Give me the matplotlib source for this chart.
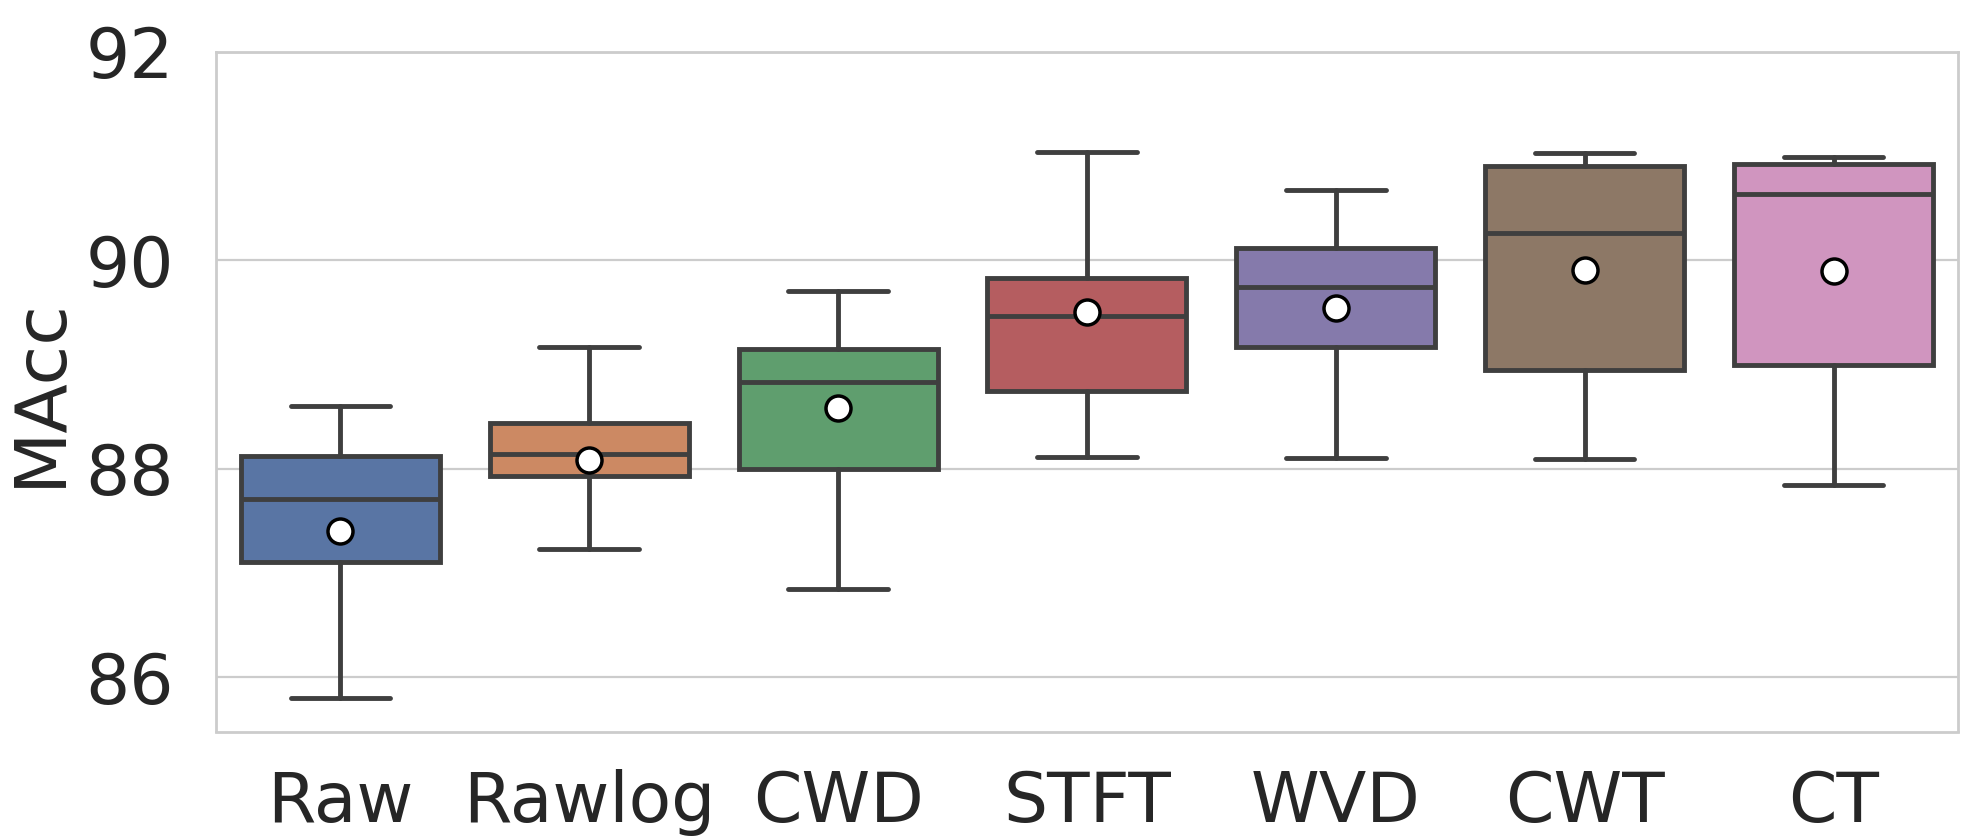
import numpy as np
import matplotlib
matplotlib.use("Agg")
import matplotlib.pyplot as plt
import seaborn as sns

# box statistics
methods = ["Raw", "Rawlog", "CWD", "STFT", "WVD", "CWT", "CT"]
whis_lo = [85.80, 87.23, 86.85, 88.11, 88.10, 88.09, 87.84]
q1 = [87.11, 87.93, 88.00, 88.75, 89.17, 88.95, 89.00]
med = [87.71, 88.14, 88.83, 89.47, 89.74, 90.26, 90.64]
q3 = [88.12, 88.44, 89.15, 89.83, 90.12, 90.90, 90.92]
whis_hi = [88.60, 89.17, 89.71, 91.04, 90.67, 91.03, 90.99]
means = [87.40, 88.08, 88.58, 89.50, 89.54, 89.91, 89.90]
yticks = [86, 88, 90, 92]

sns.set_theme(style="whitegrid")
plt.rcParams["font.family"] = ["DejaVu Sans"]
colors = [sns.desaturate(c, 0.75) for c in sns.color_palette("deep", len(methods))]
edge = "#3f3f3f"

stats = []
for i, m in enumerate(methods):
    stats.append(dict(label=m, whislo=whis_lo[i], q1=q1[i], med=med[i], q3=q3[i],
                      whishi=whis_hi[i], mean=means[i], fliers=[]))

fig = plt.figure(figsize=(19.7, 8.36), dpi=100)
ax = fig.add_axes([0.1096, 0.125, 0.8843, 0.813])
ax.set_axisbelow(True)

lw = 3.5
bp = ax.bxp(stats, positions=np.arange(len(methods)), widths=0.8, capwidths=0.4,
            patch_artist=True, showmeans=True,
            boxprops=dict(linewidth=lw, edgecolor=edge),
            whiskerprops=dict(linewidth=lw, color=edge),
            capprops=dict(linewidth=lw, color=edge),
            medianprops=dict(linewidth=lw, color=edge),
            meanprops=dict(marker="o", markerfacecolor="white", markeredgecolor="black",
                           markersize=18, markeredgewidth=2.5))
for patch, c in zip(bp["boxes"], colors):
    patch.set_facecolor(c)

ax.set_xlim(-0.5, len(methods) - 0.5)
ax.set_ylim(85.48, 92)
ax.set_yticks(yticks)
ax.xaxis.grid(False)
ax.yaxis.grid(True, color="#cccccc", linewidth=1.6)
for s in ax.spines.values():
    s.set_color("#cccccc")
    s.set_linewidth(2)
ax.tick_params(axis="both", labelsize=50, colors="#262626", length=0)
ax.tick_params(axis="x", pad=27)
ax.tick_params(axis="y", pad=30)
ax.set_ylabel("MAcc", fontsize=52, color="#262626", labelpad=8)

fig.savefig("out.png", dpi=100)
